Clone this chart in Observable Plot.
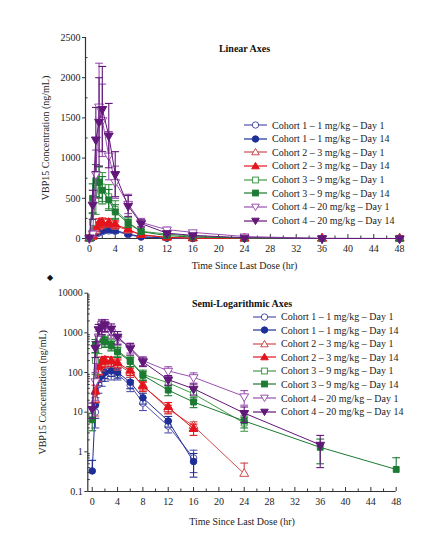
<!DOCTYPE html>
<html><head><meta charset="utf-8">
<script src="https://cdn.jsdelivr.net/npm/d3@7"></script>
<script src="https://cdn.jsdelivr.net/npm/@observablehq/plot@0.6"></script>
<style>
body{margin:0;background:#fff;font-family:"Liberation Serif","Times New Roman",serif;}
#wrap{position:relative;width:444px;height:553px;overflow:hidden;background:#fff;}
#wrap > svg{position:absolute;left:0;}
.leg{position:absolute;font-size:10px;color:#222;}
.leg div{display:flex;align-items:center;white-space:nowrap;}
.leg svg{margin-right:5px;flex:none;}
.dia{position:absolute;left:47px;top:273px;font-size:8px;color:#111;}
</style></head><body><div id="wrap"></div>
<script>
// ---- data ----
const times = [0, 0.5, 1, 1.5, 2, 3, 4, 6, 8, 12, 16, 24, 36, 48];
const seriesNames = [
  "Cohort 1 \u2013 1 mg/kg \u2013 Day 1",
  "Cohort 1 \u2013 1 mg/kg \u2013 Day 14",
  "Cohort 2 \u2013 3 mg/kg \u2013 Day 1",
  "Cohort 2 \u2013 3 mg/kg \u2013 Day 14",
  "Cohort 3 \u2013 9 mg/kg \u2013 Day 1",
  "Cohort 3 \u2013 9 mg/kg \u2013 Day 14",
  "Cohort 4 \u2013 20 mg/kg \u2013 Day 1",
  "Cohort 4 \u2013 20 mg/kg \u2013 Day 14"
];
const seriesColors = ["#5050aa", "#1f2f98", "#cc4c4c", "#e3141c", "#43994a", "#1c7a32", "#9a52b0", "#62177a"];
const seriesShapes = ["circle", "circle", "triangle", "triangle", "square", "square", "down", "down"];
const seriesFilled = [false, true, false, true, false, true, false, true];
// mean concentrations (ng/mL); 0 = below limit of quantification
const c1d1  = [0, 10, 50, 70, 85, 95, 90, 48, 17, 4.5, 0.7, 0, 0, 0];
const c1d14 = [0.33, 15, 66, 85, 100, 110, 100, 57, 23, 6, 0.57, 0, 0, 0];
const c2d1  = [0, 20, 100, 160, 185, 190, 160, 100, 48, 12, 4.5, 0.28, 0, 0];
const c2d14 = [0, 33, 140, 190, 200, 195, 175, 112, 45, 13.5, 3.8, 0, 0, 0];
const c3d1  = [0, 200, 480, 700, 640, 520, 360, 200, 90, 55, 29, 5.3, 0, 0];
const c3d14 = [6.4, 500, 720, 700, 600, 480, 330, 190, 85, 36, 18, 6, 1.3, 0.36];
const c4d1  = [0, 60, 800, 1640, 1470, 1030, 700, 430, 200, 110, 76, 25, 0, 0];
const c4d14 = [12, 420, 1230, 1450, 1610, 1280, 800, 405, 186, 66, 39, 9.5, 1.5, 0];
// standard deviations
const c1d1sd  = [0, 6, 20, 25, 25, 30, 25, 15, 6, 1.5, 0.4, 0, 0, 0];
const c1d14sd = [0.28, 8, 20, 25, 30, 30, 28, 18, 7, 1.8, 0.34, 0, 0, 0];
const c2d1sd  = [0, 12, 40, 50, 55, 50, 45, 25, 12, 3, 1.2, 0.24, 0, 0];
const c2d14sd = [0, 15, 50, 55, 55, 50, 45, 28, 12, 4, 1.2, 0, 0, 0];
const c3d1sd  = [0, 110, 180, 200, 180, 150, 110, 60, 25, 15, 9, 2, 0, 0];
const c3d14sd = [3, 180, 200, 190, 170, 130, 90, 50, 22, 10, 5, 2, 0.8, 0.35];
const c4d1sd  = [0, 40, 300, 540, 450, 300, 200, 120, 50, 30, 22, 10, 0, 0];
const c4d14sd = [5, 180, 400, 550, 530, 400, 280, 130, 45, 18, 12, 4, 1.1, 0];
const xTicks = [0, 4, 8, 12, 16, 20, 24, 28, 32, 36, 40, 44, 48];
const linTicks = [0, 500, 1000, 1500, 2000, 2500];
const logTicks = [0.1, 1, 10, 100, 1000, 10000];

const means = [c1d1, c1d14, c2d1, c2d14, c3d1, c3d14, c4d1, c4d14];
const sds = [c1d1sd, c1d14sd, c2d1sd, c2d14sd, c3d1sd, c3d14sd, c4d1sd, c4d14sd];

const rows = means.map((m, i) => times.map((t, j) => ({t, v: m[j], sd: sds[i][j]})));

// ---- symbols ----
const downTri = {draw(ctx, size) {
  const y = -Math.sqrt(size / (Math.sqrt(3) * 3));
  ctx.moveTo(0, -y * 2); ctx.lineTo(-Math.sqrt(3) * y, y); ctx.lineTo(Math.sqrt(3) * y, y); ctx.closePath();
}};
const capSym = {draw(ctx, size) { const w = Math.sqrt(size); ctx.moveTo(-w, 0); ctx.lineTo(w, 0); }};
const symFor = s => s === "down" ? downTri : s;

const FONT = "Liberation Serif, Times New Roman, serif";
const wrap = document.getElementById("wrap");

function seriesMarks(i, log) {
  const color = seriesColors[i];
  const data = log ? rows[i].filter(d => d.v > 0) : rows[i];
  const withSd = data.filter(d => d.sd > 0);
  const lo = d => log ? (d.v - d.sd >= 0.1 ? d.v - d.sd : d.v) : Math.max(0, d.v - d.sd);
  const loCaps = withSd.filter(d => lo(d) < d.v);
  return [
    Plot.line(data, {x: "t", y: "v", stroke: color, strokeWidth: 1}),
    Plot.ruleX(withSd, {x: "t", y1: lo, y2: d => d.v + d.sd, stroke: color, strokeWidth: 1.1}),
    Plot.dot(withSd, {x: "t", y: d => d.v + d.sd, symbol: capSym, r: 2.2, stroke: color, strokeWidth: 1.1}),
    Plot.dot(loCaps, {x: "t", y: lo, symbol: capSym, r: 2.2, stroke: color, strokeWidth: 1.1}),
    Plot.dot(data, {x: "t", y: "v", symbol: symFor(seriesShapes[i]), r: 3.3,
      stroke: color, fill: seriesFilled[i] ? color : "white", strokeWidth: 1})
  ];
}

function makePlot(log) {
  const xMin = log ? -0.7 : -0.6, xMax = log ? 48 : 48.6;
  const yMin = log ? 0.1 : 0, yMax = log ? 10000 : 2500;
  const minorX = d3.range(2, 48, 4);
  const minorY = log ? d3.range(-1, 4).flatMap(e => d3.range(2, 10).map(k => k * 10 ** e))
                     : d3.range(250, 2500, 500);
  const marks = [
    Plot.ruleX([xMin], {y1: yMin, y2: yMax, stroke: "#333", strokeWidth: 1.2}),
    Plot.ruleY([yMin], {x1: xMin, x2: xMax, stroke: "#333", strokeWidth: 1.2}),
    Plot.axisX({ticks: xTicks, tickSize: 0, tickPadding: 6, fontSize: 10, fill: "#222", label: null}),
    Plot.axisX({ticks: xTicks, tickSize: -4, text: null, stroke: "#333", label: null}),
    Plot.axisX({ticks: minorX, tickSize: -2.5, text: null, stroke: "#333", label: null}),
    Plot.axisY({ticks: log ? logTicks : linTicks, tickSize: 3, tickPadding: 2, fontSize: 10, fill: "#222",
      tickFormat: d => String(d), label: null, stroke: "#333"}),
    Plot.axisY({ticks: minorY, tickSize: -2.5, text: null, stroke: "#333", label: null}),
    Plot.text([log ? "Semi-Logarithmic Axes" : "Linear Axes"], {frameAnchor: "top", dy: log ? 6.5 : 7,
      fontWeight: "bold", fontSize: 10, fill: "#111"}),
    Plot.text(["Time Since Last Dose (hr)"], {frameAnchor: "bottom", dy: log ? 33 : 30, fontSize: 10, fill: "#222"}),
    Plot.text(["VBP15 Concentration (ng/mL)"], {frameAnchor: "left", textAnchor: "middle", dx: log ? -44.6 : -40,
      rotate: -90, fontSize: 10, fill: "#222"})
  ];
  for (let i = 0; i < 8; i++) marks.push(...seriesMarks(i, log));
  return Plot.plot({
    width: 444,
    height: log ? 271 : 282,
    marginTop: log ? 10.7 : 37,
    marginBottom: log ? 62 : 44,
    marginLeft: log ? 87.3 : 85,
    marginRight: log ? 48.3 : 41,
    style: {fontFamily: FONT, background: "transparent", overflow: "visible"},
    x: {domain: [xMin, xMax]},
    y: log ? {type: "log", domain: [yMin, yMax]} : {domain: [yMin, yMax]},
    marks
  });
}

const topPlot = makePlot(false);
topPlot.style.top = "0px";
wrap.appendChild(topPlot);
const bottomPlot = makePlot(true);
bottomPlot.style.top = "282px";
wrap.appendChild(bottomPlot);

const dia = document.createElement("div");
dia.className = "dia"; dia.textContent = "\u25C6";
wrap.appendChild(dia);

function legend(left, topY, rowH) {
  const div = document.createElement("div");
  div.className = "leg";
  div.style.left = left + "px"; div.style.top = topY + "px";
  seriesNames.forEach((name, i) => {
    const row = document.createElement("div");
    row.style.height = rowH + "px";
    const c = seriesColors[i];
    const fill = seriesFilled[i] ? c : "white";
    const shape = seriesShapes[i] === "circle" ? `<circle cx="11.5" cy="5" r="3.2" />`
      : seriesShapes[i] === "square" ? `<rect x="8.6" y="2.1" width="5.8" height="5.8" />`
      : seriesShapes[i] === "triangle" ? `<path d="M11.5,1.4L15.3,7.8L7.7,7.8Z" />`
      : `<path d="M11.5,8.6L15.3,2.2L7.7,2.2Z" />`;
    row.innerHTML = `<svg width="23" height="10"><line x1="0" x2="23" y1="5" y2="5" stroke="${c}" stroke-width="1.2"/>` +
      `<g stroke="${c}" fill="${fill}" stroke-width="1">${shape}</g></svg><span>${name}</span>`;
    div.appendChild(row);
  });
  wrap.appendChild(div);
}
legend(244, 118.2, 13.67);
legend(253, 309.9, 13.57);
</script></body></html>
